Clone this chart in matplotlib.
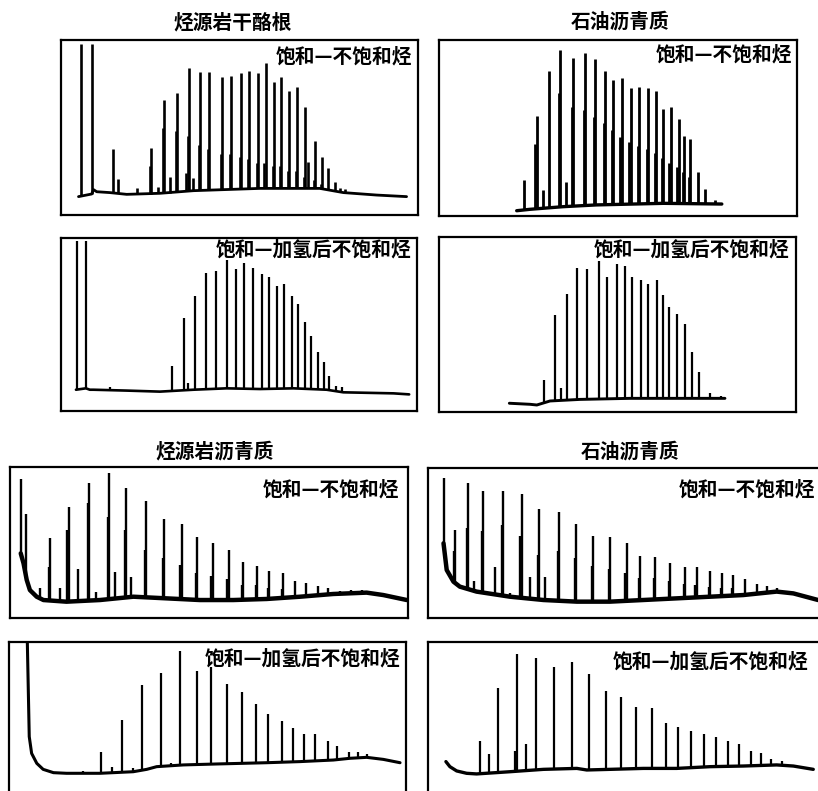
import numpy as np
import matplotlib
matplotlib.use("Agg")
import matplotlib.pyplot as plt

plt.rcParams['font.family'] = ['Noto Sans CJK SC', 'DejaVu Sans']

W, H = 818, 791

# ---------------- data (x: retention 0-100 across box, y: response 0-100) -------------
titles = ["烃源岩干酪根", "石油沥青质", "烃源岩沥青质", "石油沥青质"]
label_unsat = "饱和—不饱和烃"
label_hydro = "饱和—加氢后不饱和烃"

# Panel 1: kerogen, saturated-unsaturated
p1_base_x = [4.9, 8.6, 9.1, 10.0, 13.7, 18.4, 27.7, 37.1, 55.7, 72.5, 79.1, 88.4, 96.8]
p1_base_y = [10.5, 12.0, 14.5, 13.3, 12.8, 11.8, 12.4, 13.9, 15.2, 15.2, 12.8, 11.4, 10.5]
p1_peak_x = [5.5, 8.6, 14.7, 16.1, 21.2, 25.1, 27.3, 28.9, 30.5, 32.4, 35.0, 35.9, 37.1,
             38.9, 41.5, 45.0, 47.5, 50.4, 52.8, 55.3, 57.3, 59.6, 61.7, 64.0, 66.1,
             68.3, 69.3, 71.1, 73.2, 74.9, 76.8, 78.2, 79.6]
p1_peak_h = [98, 98, 37.5, 20.6, 15.6, 38.5, 16.2, 65.7, 21.9, 69.5, 23.8, 84.2, 21.0,
             81.9, 81.9, 78.7, 79.6, 81.0, 82.5, 81.3, 86.7, 76.2, 79.0, 70.9, 73.3,
             61.5, 30.5, 42.5, 33.0, 26.7, 19.0, 15.2, 14.7]
p1_comp_x = [24.8, 28.6, 32.1, 35.6, 38.6, 41.2, 44.7, 47.2, 50.1, 52.5, 55.0, 57.0,
             59.3, 61.4, 63.7, 65.8, 68.0, 70.8, 72.9]
p1_comp_h = [28, 50, 48, 45, 40, 38, 35, 35, 33, 32, 30, 30, 28, 28, 25, 25, 22, 20, 18]

# Panel 2: oil asphaltene, saturated-unsaturated
p2_base_x = [21.7, 25.4, 34.7, 44.0, 62.7, 79.0]
p2_base_y = [3.0, 3.8, 5.3, 6.3, 7.2, 6.8]
p2_peak_x = [23.8, 27.3, 29.1, 30.7, 33.8, 35.5, 37.5, 40.8, 43.6, 46.4, 48.7, 51.0,
             53.6, 56.0, 58.5, 60.6, 62.7, 64.7, 66.9, 68.5, 70.1, 72.3, 74.3, 77.1]
p2_peak_h = [20.5, 56.8, 14.8, 82.4, 94.3, 19.5, 89.6, 92.8, 89.0, 82.6, 77.3, 78.2,
             72.5, 73.5, 72.5, 71.2, 60.6, 61.7, 54.9, 45.5, 43.6, 25.2, 15.2, 9.1]
p2_comp_x = [26.9, 33.4, 37.1, 40.4, 43.2, 46.0, 48.3, 50.6, 53.2, 55.6, 58.1, 60.2,
             62.3, 64.3, 66.5, 68.1, 69.7]
p2_comp_h = [41, 70, 62, 60, 56, 53, 49, 45, 42, 40, 38, 36, 33, 30, 28, 25, 22]

# Panel 3: kerogen, hydrogenated
p3_base_x = [4.2, 7.0, 8.1, 9.1, 18.4, 27.8, 37.2, 46.5, 55.9, 65.3, 74.6, 79.3, 93.4, 97.8]
p3_base_y = [12.3, 13.1, 12.3, 12.3, 11.8, 11.2, 12.3, 13.1, 12.7, 13.1, 12.3, 10.8, 10.2, 9.6]
p3_peak_x = [4.4, 7.0, 13.8, 31.1, 34.6, 35.8, 37.6, 40.6, 43.4, 46.5, 49.2, 51.4, 54.0,
             56.4, 58.5, 60.8, 62.6, 64.9, 66.7, 68.5, 70.3, 72.3, 73.9, 75.4, 77.2, 78.8]
p3_peak_h = [98, 98, 14.1, 26.2, 53.6, 16.0, 66.7, 79.6, 81.1, 87.3, 82.1, 85.4, 82.9,
             79.0, 77.3, 72.3, 73.4, 66.7, 61.7, 51.3, 43.4, 34.3, 28.5, 20.4, 14.6, 13.7]

# Panel 4: oil asphaltene, hydrogenated
p4_base_x = [19.7, 25.5, 27.4, 31.1, 39.5, 53.5, 80.1]
p4_base_y = [5.0, 4.4, 4.0, 6.3, 7.2, 7.8, 7.8]
p4_peak_x = [29.5, 32.5, 34.1, 35.8, 38.7, 41.4, 44.7, 47.0, 49.8, 52.1, 54.2, 56.5,
             58.6, 61.0, 62.8, 64.5, 66.6, 68.9, 70.8, 72.9, 75.9, 78.9]
p4_peak_h = [18.3, 55.4, 13.9, 67.2, 82.1, 81.5, 86.3, 77.0, 84.6, 83.4, 77.0, 75.4,
             73.0, 75.4, 66.9, 60.2, 55.8, 50.1, 34.1, 23.0, 10.7, 9.3]

# Panel 5: source-rock asphaltene, saturated-unsaturated
p5_base_x = [2.7, 3.4, 4.2, 5.0, 6.7, 8.4, 14.2, 22.6, 31.0, 39.4, 47.7, 56.1, 64.5,
             72.9, 81.2, 89.6, 93.8, 99.7]
p5_base_y = [42.8, 36.2, 25.2, 18.5, 14.1, 11.9, 10.8, 11.9, 14.1, 13.0, 11.9, 11.9,
             12.6, 14.1, 15.9, 16.8, 15.2, 11.9]
p5_peak_x = [2.7, 4.0, 7.5, 10.1, 12.6, 14.7, 17.2, 19.8, 21.6, 24.9, 26.5, 29.1, 30.4,
             34.1, 38.7, 43.1, 47.1, 50.9, 54.9, 58.5, 62.0, 65.2, 68.7, 71.6, 74.4,
             77.5, 80.0, 82.9, 85.8, 88.4, 90.5]
p5_peak_h = [91.8, 68.9, 19.6, 52.8, 19.6, 73.7, 32.2, 89.6, 17.4, 95.8, 30.7, 85.9,
             26.9, 77.7, 65.3, 62.3, 53.4, 49.9, 45.0, 37.3, 34.7, 31.1, 29.6, 24.7,
             23.4, 21.4, 19.6, 17.9, 18.5, 18.5, 17.4]
p5_comp_x = [9.9, 14.4, 19.5, 24.6, 28.8, 33.8, 38.4, 42.8, 46.8, 50.6, 54.6, 58.2,
             61.7, 64.9, 68.4]
p5_comp_h = [34, 58, 76, 67, 58, 45, 40, 35, 30, 28, 26, 22, 22, 20, 19]

# Panel 6: oil asphaltene, saturated-unsaturated
p6_base_x = [3.9, 4.7, 6.4, 8.0, 12.2, 20.6, 29.0, 37.4, 45.7, 54.1, 62.5, 70.9, 79.2,
             87.6, 91.8, 98.0]
p6_base_y = [49.8, 32.0, 24.2, 20.9, 17.6, 14.2, 12.0, 10.9, 10.9, 12.0, 13.1, 14.2,
             15.3, 17.6, 16.4, 12.0]
p6_peak_x = [3.9, 6.8, 10.1, 11.6, 13.9, 16.8, 18.9, 20.6, 23.5, 25.6, 28.0, 29.4, 32.9,
             37.2, 41.5, 45.7, 49.9, 53.3, 57.0, 60.8, 64.6, 67.5, 70.9, 73.8, 76.7,
             79.6, 82.6, 85.1, 87.6, 90.1]
p6_peak_h = [93.1, 58.7, 90.2, 25.0, 84.7, 34.2, 84.7, 16.4, 82.4, 27.6, 72.4, 27.6,
             70.9, 62.7, 54.7, 53.8, 49.8, 41.3, 40.9, 36.9, 34.2, 33.8, 31.3, 29.8,
             28.7, 25.8, 22.4, 21.3, 19.8, 18.0]
p6_comp_x = [6.5, 9.8, 13.6, 18.6, 23.2, 27.7, 32.6, 36.9, 41.2, 45.4, 49.6, 53.0, 56.7,
             60.5, 64.3, 67.2, 70.6, 73.5, 76.4]
p6_comp_h = [45, 60, 58, 62, 55, 42, 45, 40, 35, 33, 30, 27, 27, 25, 23, 22, 21, 20, 20]

# Panel 7: source-rock asphaltene, hydrogenated
p7_base_x = [4.6, 5.1, 5.7, 7.0, 8.6, 11.2, 14.5, 22.9, 31.3, 34.7, 37.2, 43.9, 52.3,
             64.9, 73.3, 81.7, 85.9, 90.1, 94.3, 98.5]
p7_base_y = [102, 40.1, 29.5, 23.2, 19.4, 17.3, 16.9, 16.9, 17.9, 19.4, 21.1, 22.2,
             22.8, 23.6, 24.3, 25.3, 26.4, 27.0, 25.7, 23.6]
p7_peak_x = [18.7, 23.2, 25.9, 28.5, 31.2, 33.6, 38.3, 40.7, 43.1, 47.3, 51.0, 54.8,
             58.8, 62.2, 65.2, 68.7, 71.5, 74.3, 77.1, 80.3, 82.5, 85.7, 88.0, 90.3]
p7_peak_h = [18.4, 30.2, 21.1, 50.6, 20.5, 72.8, 80.6, 23.6, 94.5, 81.6, 84.4, 73.4,
             68.6, 60.5, 54.2, 50.2, 45.8, 41.8, 41.8, 37.3, 34.2, 30.6, 30.2, 29.1]

# Panel 8: oil asphaltene, hydrogenated
p8_base_x = [4.5, 5.5, 7.2, 9.7, 12.2, 20.6, 29.0, 37.4, 39.9, 45.7, 54.1, 62.5, 70.9,
             79.2, 87.6, 91.8, 96.8]
p8_base_y = [24.3, 21.1, 18.4, 16.9, 16.5, 17.9, 19.4, 20.0, 19.0, 19.4, 20.0, 20.0,
             21.1, 21.5, 22.2, 21.5, 19.4]
p8_peak_x = [13.1, 15.4, 17.7, 21.9, 22.4, 24.6, 27.1, 31.7, 36.3, 40.5, 44.7, 48.4,
             52.3, 56.2, 59.7, 62.9, 66.1, 69.3, 72.3, 75.3, 78.1, 81.1, 83.6, 86.3, 88.9]
p8_peak_h = [37.3, 28.9, 71.1, 31.0, 92.2, 35.2, 89.7, 84.4, 87.1, 79.7, 69.2, 65.0,
             59.1, 58.0, 48.5, 46.4, 43.9, 41.8, 39.7, 37.6, 35.2, 31.2, 30.0, 25.9, 24.7]

# ---------------- layout (pixel boxes: left, top, right, bottom) ----------------
panels = [
    dict(box=(61, 40, 418, 215), bx=p1_base_x, by=p1_base_y, px=p1_peak_x, ph=p1_peak_h,
         cx=p1_comp_x, ch=p1_comp_h, label=label_unsat, lab=(412, 57), blw=2.0, plw=1.9),
    dict(box=(439, 40, 797, 216), bx=p2_base_x, by=p2_base_y, px=p2_peak_x, ph=p2_peak_h,
         cx=p2_comp_x, ch=p2_comp_h, label=label_unsat, lab=(792, 55), blw=2.4, plw=2.0),
    dict(box=(61, 238, 417, 411), bx=p3_base_x, by=p3_base_y, px=p3_peak_x, ph=p3_peak_h,
         cx=[], ch=[], label=label_hydro, lab=(411, 250), blw=1.9, plw=1.6),
    dict(box=(439, 237, 796, 412), bx=p4_base_x, by=p4_base_y, px=p4_peak_x, ph=p4_peak_h,
         cx=[], ch=[], label=label_hydro, lab=(789, 250), blw=2.1, plw=1.6),
    dict(box=(10, 467, 408, 618), bx=p5_base_x, by=p5_base_y, px=p5_peak_x, ph=p5_peak_h,
         cx=p5_comp_x, ch=p5_comp_h, label=label_unsat, lab=(399, 490), blw=3.2, plw=1.7),
    dict(box=(428, 468, 826, 618), bx=p6_base_x, by=p6_base_y, px=p6_peak_x, ph=p6_peak_h,
         cx=p6_comp_x, ch=p6_comp_h, label=label_unsat, lab=(815, 490), blw=3.2, plw=1.7),
    dict(box=(9, 642, 406, 800), bx=p7_base_x, by=p7_base_y, px=p7_peak_x, ph=p7_peak_h,
         cx=[], ch=[], label=label_hydro, lab=(400, 659), blw=2.2, plw=1.6),
    dict(box=(428, 642, 826, 800), bx=p8_base_x, by=p8_base_y, px=p8_peak_x, ph=p8_peak_h,
         cx=[], ch=[], label=label_hydro, lab=(808, 662), blw=2.4, plw=1.6),
]

title_pos = [(233, 23), (620, 22), (215, 452), (630, 452)]

fig = plt.figure(figsize=(W / 100, H / 100), dpi=100)
fig.patch.set_facecolor('white')

for p in panels:
    l, t, r, b = p['box']
    ax = fig.add_axes([l / W, 1 - b / H, (r - l) / W, (b - t) / H])
    ax.set_xlim(0, 100)
    ax.set_ylim(0, 100)
    ax.set_xticks([])
    ax.set_yticks([])
    for s in ax.spines.values():
        s.set_linewidth(1.6)
        s.set_color('black')
    bx = np.array(p['bx'])
    by = np.array(p['by'])
    ax.plot(bx, by, color='black', lw=p['blw'], solid_capstyle='round',
            solid_joinstyle='round')
    if len(p['cx']):
        cx = np.array(p['cx'])
        ax.vlines(cx, np.interp(cx, bx, by), p['ch'], color='black', lw=p['plw'])
    px = np.array(p['px'])
    ax.vlines(px, np.interp(px, bx, by), p['ph'], color='black', lw=p['plw'])
    x, y = p['lab']
    fig.text(x / W, 1 - y / H, p['label'], ha='right', va='center',
             fontsize=14.2, fontweight='heavy')

for s, (x, y) in zip(titles, title_pos):
    fig.text(x / W, 1 - y / H, s, ha='center', va='center',
             fontsize=14.2, fontweight='heavy')

fig.savefig('out.png', dpi=100, facecolor='white')
